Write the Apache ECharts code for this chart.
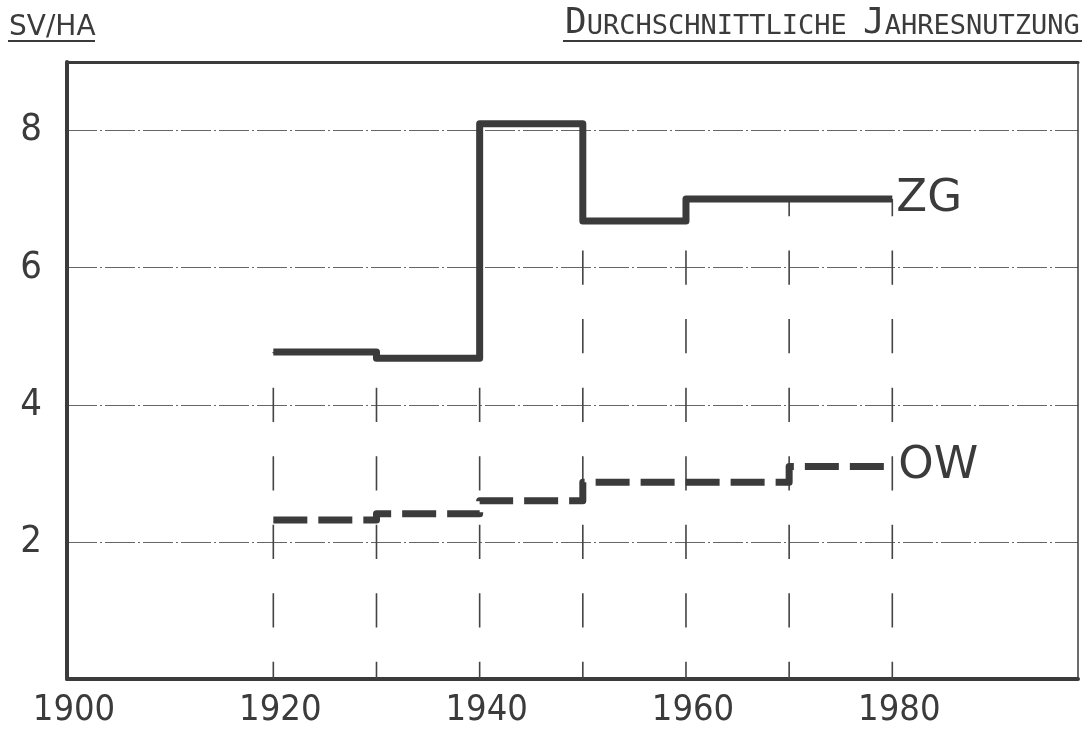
<!DOCTYPE html>
<html>
<head>
<meta charset="utf-8">
<script src="https://cdn.jsdelivr.net/npm/echarts@6/dist/echarts.min.js"></script>
<style>
  html, body { margin: 0; padding: 0; background: #ffffff; }
  #chart { width: 1090px; height: 731px; }
</style>
</head>
<body>
<div id="chart"></div>
<script>
// ---- data ----
const years = [1920, 1930, 1940, 1950, 1960, 1970, 1980];
// level held over each decade starting at the given year (last entry = end point)
const zgValues = [4.77, 4.68, 8.1, 6.68, 7.0, 7.0, 7.0];
const owValues = [2.32, 2.41, 2.6, 2.87, 2.87, 3.1, 3.1];
const seriesNames = ['ZG', 'OW'];
const xTickLabels = [1900, 1920, 1940, 1960, 1980];
const yTickLabels = [2, 4, 6, 8];
const unitLabel = 'SV/HA';
const titleParts = ['D', 'URCHSCHNITTLICHE', 'J', 'AHRESNUTZUNG'];

// guide tops: up to the lower of the two ZG levels meeting at each decade
const guideData = years.map((y, i) => [y, i === 0 ? zgValues[0] : Math.min(zgValues[i - 1], zgValues[i])]);

const ink = '#3b3b3b';
const narrow = "'Liberation Sans Narrow','DejaVu Sans Condensed','Liberation Sans',sans-serif";
const mono = "'DejaVu Sans Mono','Liberation Mono',monospace";

// title text pieces (small caps look)
const bigSize = 36, smallSize = 27;
const bigW = bigSize * 0.602, smallW = smallSize * 0.602;
let tx = 565;
const titleGraphics = [];
titleParts.forEach((p, i) => {
  const big = i % 2 === 0;
  const size = big ? bigSize : smallSize;
  titleGraphics.push({
    type: 'text', x: tx, y: 37 - 0.365 * size,
    style: { text: p, font: size + 'px ' + mono, fill: ink, textVerticalAlign: 'middle', textAlign: 'left' }
  });
  tx += p.length * (big ? bigW : smallW);
  if (i === 1) tx += smallW;
});

const chart = echarts.init(document.getElementById('chart'));
chart.setOption({
  animation: false,
  backgroundColor: '#ffffff',
  grid: { left: 67, right: 12, top: 62, bottom: 52, containLabel: false },
  xAxis: [{
    type: 'value', min: 1900, max: 1998, interval: 20,
    axisLine: { show: true, onZero: false, lineStyle: { color: ink, width: 4 } },
    axisTick: { show: false },
    splitLine: { show: false },
    axisLabel: {
      fontSize: 36, fontFamily: narrow, color: ink, margin: 14,
      padding: [0, 0, 0, 14],
      showMaxLabel: false,
      formatter: v => xTickLabels.indexOf(v) >= 0 ? String(v) : ''
    }
  }, {
    type: 'value', min: 1900, max: 1998, position: 'top',
    axisLine: { show: true, onZero: false, lineStyle: { color: ink, width: 3 } },
    axisTick: { show: false }, axisLabel: { show: false }, splitLine: { show: false }
  }],
  yAxis: [{
    type: 'value', min: 0, max: 9, interval: 2,
    axisLine: { show: true, onZero: false, lineStyle: { color: ink, width: 4 } },
    axisTick: { show: false },
    splitLine: { show: true, lineStyle: { color: '#666', width: 1, type: [30, 3, 2, 3] } },
    axisLabel: {
      fontSize: 38, fontFamily: narrow, color: ink, margin: 25,
      formatter: v => yTickLabels.indexOf(v) >= 0 ? String(v) : ''
    }
  }, {
    type: 'value', min: 0, max: 9, position: 'right',
    axisLine: { show: true, onZero: false, lineStyle: { color: ink, width: 1.5 } },
    axisTick: { show: false }, axisLabel: { show: false }, splitLine: { show: false }
  }],
  graphic: [
    { type: 'text', x: 9, y: 28, style: { text: unitLabel, font: '28px DejaVu Sans', fill: ink, textVerticalAlign: 'middle' } },
    { type: 'line', shape: { x1: 8, y1: 41, x2: 95, y2: 41 }, style: { stroke: ink, lineWidth: 2 } },
    { type: 'line', shape: { x1: 563, y1: 41, x2: 1082, y2: 41 }, style: { stroke: ink, lineWidth: 2 } }
  ].concat(titleGraphics),
  series: [{
    type: 'custom',
    z: 1,
    silent: true,
    renderItem: function (params, api) {
      const x = api.value(0), top = api.value(1);
      const p0 = api.coord([x, 0]);
      const p1 = api.coord([x, top]);
      const unit = api.size([0, 1])[1];
      return {
        type: 'line',
        shape: { x1: p0[0], y1: p0[1], x2: p1[0], y2: p1[1] },
        style: { stroke: '#444', lineWidth: 1.6, lineDash: [unit * 0.5, unit * 0.5], lineDashOffset: unit * 0.25 }
      };
    },
    data: guideData
  }, {
    name: seriesNames[0],
    type: 'line', step: 'end', z: 3,
    symbol: 'none',
    lineStyle: { color: ink, width: 7, join: 'round', cap: 'butt' },
    data: years.map((y, i) => [y, zgValues[i]]),
    endLabel: { show: true, formatter: seriesNames[0], fontSize: 45, fontFamily: 'DejaVu Sans', color: ink, distance: 4 }
  }, {
    name: seriesNames[1],
    type: 'line', step: 'end', z: 3,
    symbol: 'none',
    lineStyle: { color: ink, width: 7, type: [34, 11], join: 'round', cap: 'butt' },
    data: years.map((y, i) => [y, owValues[i]]),
    endLabel: { show: true, formatter: seriesNames[1], fontSize: 45, fontFamily: 'DejaVu Sans', color: ink, distance: 6 }
  }]
});
</script>
</body>
</html>
